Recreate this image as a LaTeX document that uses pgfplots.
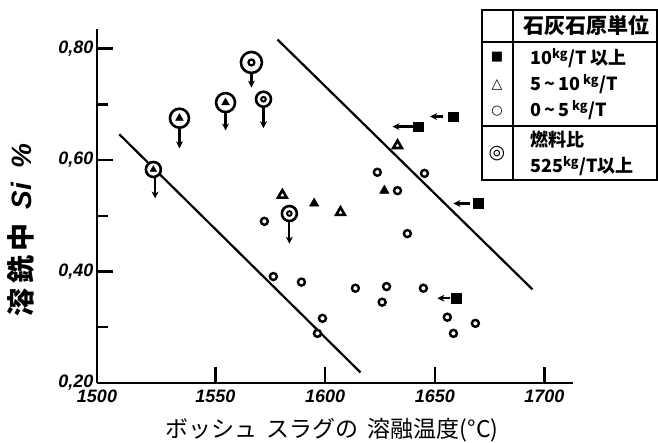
\documentclass[border=0pt]{standalone}
\usepackage{fontspec}
\setmainfont{Liberation Sans}
\newfontfamily\jp{Noto Sans CJK JP}
\newfontfamily\sym{DejaVu Sans}
\usepackage{pgfplots}
\pgfplotsset{compat=1.18}
\usetikzlibrary{arrows.meta}

\begin{document}
\begin{tikzpicture}
\useasboundingbox (-97pt,-60pt) rectangle (561pt,383pt);
\begin{axis}[
  at={(0pt,0pt)}, anchor=south west,
  scale only axis, width=476pt, height=354pt,
  xmin=1496, xmax=1713, ymin=0.20, ymax=0.835,
  axis x line*=bottom, axis y line*=left,
  axis line style={line width=2.5pt, -},
  xtick={1496,1550,1600,1650,1700},
  xticklabels={1500,1550,1600,1650,1700},
  ytick={0.2,0.4,0.6,0.8},
  yticklabels={{0,20},{0,40},{0,60},{0,80}},
  minor ytick={0.3,0.5,0.7},
  xtick align=inside, ytick align=inside,
  major tick length=16pt, minor tick length=11pt,
  every tick/.style={line width=2.5pt, black},
  /pgf/number format/assume math mode=true,
  tick label style={font=\fontsize{18}{18}\selectfont\bfseries\itshape},
  xticklabel style={yshift=-3pt},
  xlabel={\jp\fontsize{23}{23}\selectfont ボッシュ\, スラグの\, 溶融温度(°C)},
  ylabel={\jp\bfseries\fontsize{28}{28}\selectfont 溶\,銑\,中\enspace\rmfamily\itshape Si\enspace\%},
  xlabel style={at={(axis description cs:0.494,-0.133)}, anchor=center},
  ylabel style={at={(axis description cs:-0.160,0.432)}, anchor=center},
]
% boundary lines
\addplot[line width=2.2pt, no markers] coordinates {(1506.2,0.646) (1616.1,0.219)};
\addplot[line width=2.2pt, no markers] coordinates {(1578.3,0.816) (1694.5,0.368)};

% arrows
\addplot[line width=2.2pt, no markers, -{Stealth[length=7pt,width=7pt]},
  quiver={u=\thisrow{u}, v=\thisrow{v}}] table {
x y u v
1566.4 0.757 0 -0.027
1554.6 0.685 0 -0.032
1533.6 0.658 0 -0.037
1571.9 0.694 0 -0.037
1522.5 0.569 0 -0.038
1583.7 0.488 0 -0.038
1653.9 0.678 -6.0 0
1640.0 0.660 -9.3 0
1666.2 0.522 -7.7 0
1657.1 0.352 -5.9 0
};

% open circles (0~5 kg/T)
\addplot[only marks, mark=*, mark size=3.5pt, mark options={line width=2.4pt, draw=black, fill=white}] table {
x y
1623.8 0.578
1645.3 0.576
1633.0 0.545
1637.5 0.468
1572.3 0.490
1576.4 0.391
1589.2 0.381
1613.8 0.370
1628.0 0.373
1626.0 0.345
1644.8 0.370
1655.7 0.318
1668.5 0.307
1658.5 0.289
1598.8 0.316
1596.5 0.289
};

% squares (10 kg/T and more)
\addplot[only marks, mark=square*, mark size=4.8pt, mark options={draw=black, fill=black, rounded corners=1.5pt}] table {
x y
1658.5 0.678
1642.5 0.660
1669.9 0.522
1659.8 0.352
};

% open triangles (5~10 kg/T)
\addplot[only marks, mark=triangle*, mark size=5pt, mark options={line width=2.6pt, draw=black, fill=white}] table {
x y
1633.0 0.626
1580.5 0.537
1607.0 0.506
};
% filled triangles
\addplot[only marks, mark=triangle*, mark size=5.5pt, mark options={draw=black, fill=black}] table {
x y
1627.0 0.545
1595.0 0.522
};

% fuel ratio >= 525: outer circles
\addplot[only marks, mark=*, mark size=10.5pt, mark options={line width=2.6pt, draw=black, fill=white}] table {
x y
1566.4 0.775
};
\addplot[only marks, mark=*, mark size=9.5pt, mark options={line width=2.6pt, draw=black, fill=white}] table {
x y
1554.6 0.703
1533.6 0.675
};
\addplot[only marks, mark=*, mark size=7.5pt, mark options={line width=2.6pt, draw=black, fill=white}] table {
x y
1571.9 0.709
1583.7 0.504
1521.7 0.583
};
% inner circles
\addplot[only marks, mark=*, mark size=3pt, mark options={line width=2.2pt, draw=black, fill=white}] table {
x y
1566.4 0.775
};
\addplot[only marks, mark=*, mark size=2.3pt, mark options={line width=2pt, draw=black, fill=white}] table {
x y
1571.9 0.709
1583.7 0.504
};
% inner filled triangles
\addplot[only marks, mark=triangle*, mark size=4.5pt, mark options={draw=black, fill=black}] table {
x y
1554.6 0.703
1533.6 0.675
};
\addplot[only marks, mark=triangle*, mark size=3.8pt, mark options={draw=black, fill=black}] table {
x y
1521.7 0.583
};
\end{axis}

% legend table
\draw[line width=2.5pt] (385pt,203pt) rectangle (560pt,373pt);
\draw[line width=2.5pt] (416pt,203pt) -- (416pt,373pt);
\draw[line width=2.5pt] (385pt,341pt) -- (560pt,341pt);
\draw[line width=2.5pt] (385pt,257pt) -- (560pt,257pt);

\node[font=\jp\bfseries\fontsize{21}{21}\selectfont] at (489pt,358pt) {石灰石原単位};

\node[font=\sym\fontsize{13}{13}\selectfont] at (400pt,326pt) {■};
\node[font=\sym\bfseries\fontsize{14}{14}\selectfont] at (400pt,298pt) {△};
\node[font=\sym\bfseries\fontsize{13}{13}\selectfont] at (400pt,272pt) {○};
\node[font=\sym\bfseries\fontsize{19}{19}\selectfont] at (400pt,229pt) {◎};

\node[anchor=west, font=\jp\bfseries\fontsize{18}{18}\selectfont, inner sep=0pt] at (433pt,325pt) {10\textsuperscript{kg}/T 以上};
\node[anchor=west, font=\jp\bfseries\fontsize{18}{18}\selectfont, inner sep=0pt] at (433pt,299pt) {5\,\textasciitilde\,10\,\textsuperscript{kg}/T};
\node[anchor=west, font=\jp\bfseries\fontsize{18}{18}\selectfont, inner sep=0pt] at (433pt,273pt) {0\,\textasciitilde\,5\,\textsuperscript{kg}/T};
\node[anchor=west, font=\jp\bfseries\fontsize{18}{18}\selectfont, inner sep=0pt] at (433pt,243pt) {燃料比};
\node[anchor=west, font=\jp\bfseries\fontsize{18}{18}\selectfont, inner sep=0pt] at (433pt,217pt) {525\textsuperscript{kg}/T以上};
\end{tikzpicture}
\end{document}
